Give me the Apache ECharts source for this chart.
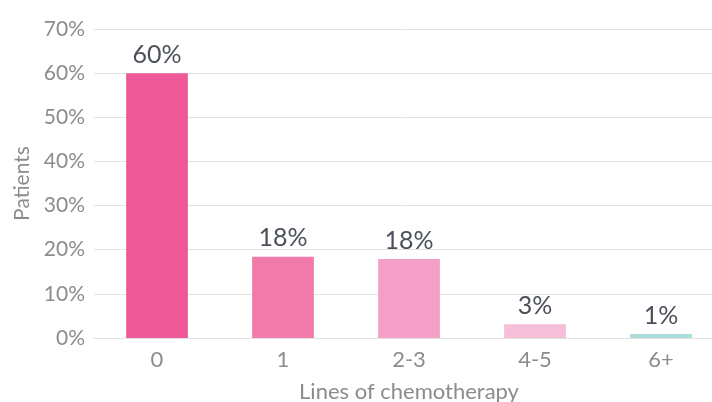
<!DOCTYPE html>
<html>
<head>
<meta charset="utf-8">
<script src="https://cdn.jsdelivr.net/npm/echarts@6/dist/echarts.min.js"></script>
<style>
  html, body { margin: 0; padding: 0; background: #fff; }
  #chart { width: 712px; height: 402px; }
</style>
</head>
<body>
<div id="chart"></div>
<script>
// Share of patients by number of prior chemotherapy lines
const categories = ['0', '1', '2-3', '4-5', '6+'];
const patientShare = [60, 18.4, 17.9, 3.1, 0.9];
const barColors = ['#EE5A98', '#F27AAB', '#F49FC5', '#F7BED8', '#A9DDD7'];
const yTicks = [0, 10, 20, 30, 40, 50, 60, 70];

const FONT = 'Lato, "Open Sans", sans-serif';
const AXIS_GREY = '#8c8c8c';

const chart = echarts.init(document.getElementById('chart'), null, { renderer: 'canvas' });

chart.setOption({
  animation: false,
  grid: {
    left: 94, top: 29, width: 630, height: 309,
    containLabel: false,
    outerBoundsMode: 'none'
  },
  xAxis: {
    type: 'category',
    data: categories,
    name: 'Lines of chemotherapy',
    nameLocation: 'middle',
    nameGap: 43,
    nameTextStyle: { color: AXIS_GREY, fontSize: 22, fontFamily: FONT },
    axisLine: { show: true, lineStyle: { color: '#e2e2e2', width: 1 } },
    axisTick: { show: false },
    axisLabel: { color: AXIS_GREY, fontSize: 22, fontFamily: FONT, margin: 11 }
  },
  yAxis: {
    type: 'value',
    min: yTicks[0],
    max: yTicks[yTicks.length - 1],
    interval: 10,
    name: 'Patients',
    nameLocation: 'middle',
    nameGap: 60,
    nameTextStyle: { color: AXIS_GREY, fontSize: 21, fontFamily: FONT },
    axisLine: { show: false },
    axisTick: { show: false },
    axisLabel: { color: AXIS_GREY, fontSize: 21, fontFamily: FONT, margin: 9, formatter: v => v + '%' },
    splitLine: { show: true, lineStyle: { color: '#e2e2e2', width: 1 } }
  },
  series: [{
    type: 'bar',
    data: patientShare.map((v, i) => ({ value: v, itemStyle: { color: barColors[i] } })),
    barWidth: '49%',
    label: {
      show: true,
      position: 'top',
      distance: 6,
      color: '#4b505a',
      fontSize: 25,
      fontFamily: FONT,
      formatter: p => Math.round(p.value) + '%'
    }
  }]
});
</script>
</body>
</html>
